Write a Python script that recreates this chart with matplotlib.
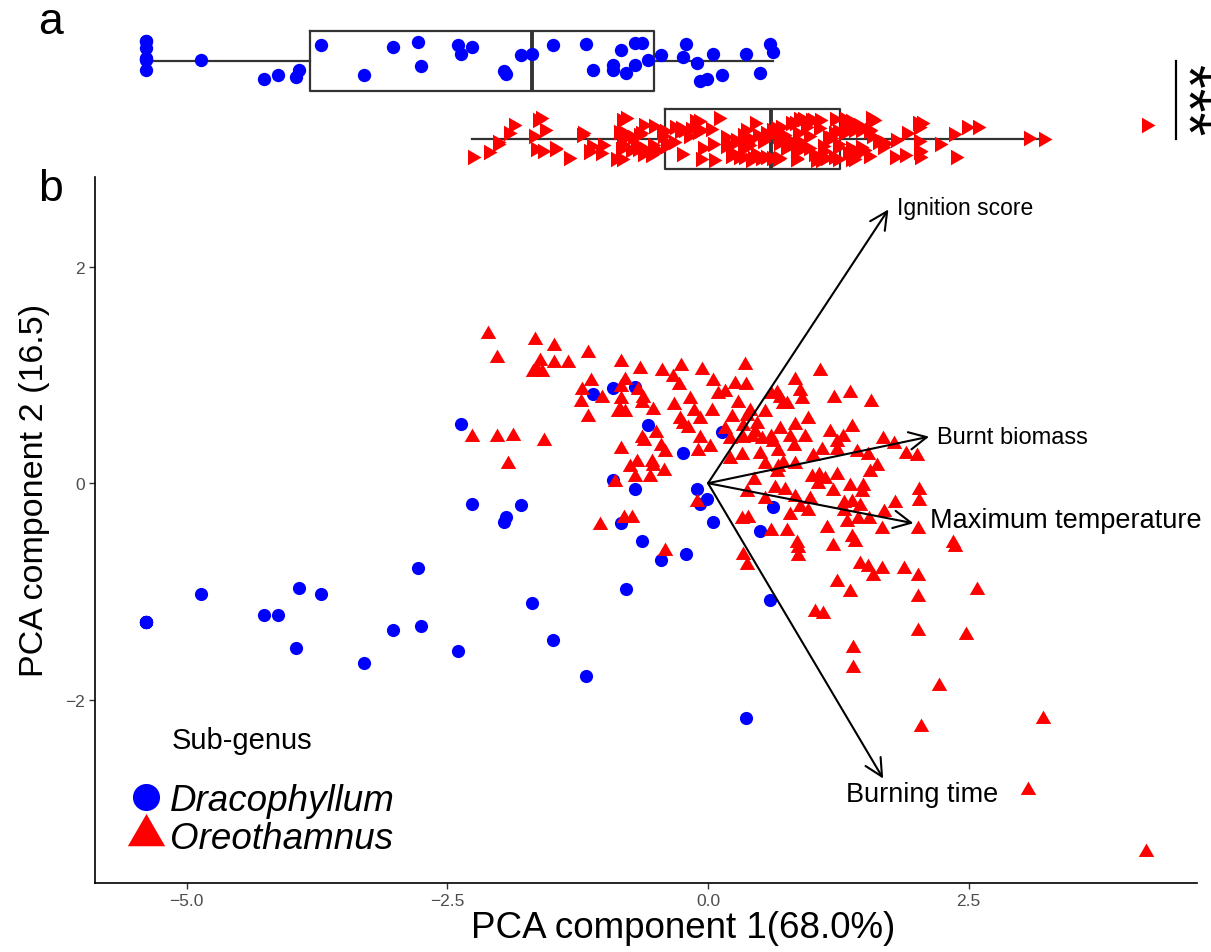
import numpy as np
import matplotlib
matplotlib.use("Agg")
import matplotlib.pyplot as plt
from matplotlib.lines import Line2D
import seaborn as sns

plt.rcParams['font.family'] = ['Liberation Sans', 'DejaVu Sans']

# ---------------- PCA scores ----------------
subgenera = ['Dracophyllum', 'Oreothamnus']

blue_pc1 = [-5.39, -5.39, -5.39, -5.39, -5.39, -5.39, -5.39,
            -4.86, -4.26, -4.12, -3.92, -3.71, -3.95, -3.30, -3.02, -2.75, -2.78,
            -2.40, -2.37, -2.26, -1.96, -1.94, -1.79, -1.69, -1.49, -1.17, -1.10,
            -0.91, -0.70, -0.58, -0.24, 0.13, -0.91, -0.70, -0.11, -0.01, -0.08,
            0.05, -0.83, -0.79, -0.63, -0.45, -0.21, 0.36, 0.59, 0.62, 0.50]
blue_pc2 = [-1.28, -1.28, -1.28, -1.28, -1.28, -1.28, -1.28,
            -1.02, -1.22, -1.22, -0.97, -1.02, -1.52, -1.66, -1.36, -1.32, -0.78,
            -1.55, 0.55, -0.19, -0.36, -0.31, -0.20, -1.11, -1.45, -1.78, 0.82,
            0.88, 0.89, 0.54, 0.28, 0.47, 0.03, -0.05, -0.05, -0.15, -0.19,
            -0.36, -0.37, -0.98, -0.53, -0.71, -0.65, -2.17, -1.08, -0.22, -0.44]

red_pc1 = [-2.26, -2.11, -2.02, -2.02, -1.92, -1.87, -1.68, -1.66, -1.64, -1.61,
           -1.59, -1.57, -1.48, -1.48, -1.34, -1.22, -1.21, -1.15, -1.15, -1.12,
           -1.04, -1.02, -0.89, -0.86, -0.84, -0.83, -0.83, -0.83, -0.81, -0.80,
           -0.83, -0.80, -0.75, -0.73, -0.70, -0.68, -0.67, -0.65, -0.62, -0.63,
           -0.63, -0.61, -0.56, -0.54, -0.53, -0.53, -0.50, -0.45, -0.44, -0.42,
           -0.41, -0.41, -0.34, -0.28, -0.33, -0.26, -0.24, -0.19, -0.13, -0.08,
           -0.10, -0.11, -0.06, 0.05, 0.04, 0.02, 0.16, 0.21, 0.23, 0.26,
           0.29, 0.33, 0.35, 0.34, 0.34, 0.33, 0.34, 0.37, 0.38, 0.37,
           0.37, 0.40, 0.42, 0.45, 0.44, 0.52, 0.55, 0.55, 0.60, 0.60,
           0.64, 0.66, 0.66, 0.67, 0.67, 0.69, 0.69, 0.74, 0.76, 0.76,
           0.79, 0.82, 0.83, 0.83, 0.83, 0.85, 0.86, 0.86, 0.88, 0.88,
           0.90, 0.93, 0.96, 0.98, 1.01, 1.03, 1.05, 1.06, 1.07, 1.10,
           1.14, 1.17, 1.20, 1.20, 1.21, 1.24, 1.24, 1.24, 1.24, 1.29,
           1.30, 1.30, 1.33, 1.36, 1.36, 1.36, 1.38, 1.38, 1.38, 1.41,
           1.39, 1.39, 1.43, 1.44, 1.46, 1.46, 1.48, 1.49, 1.53, 1.53,
           1.54, 1.55, 1.56, 1.58, 1.62, 1.67, 1.67, 1.68, 1.69, 1.78,
           1.79, 1.88, 1.90, 2.00, 2.01, 2.01, 2.01, 2.02, 2.02, 2.01,
           2.04, 2.22, 2.35, 2.37, 2.47, 2.58, 3.07, 3.21, 4.20,
           0.62, 1.09, 0.72, 1.00, 0.72, 0.47, 0.16, 0.10, -0.17, -0.08,
           0.21, 0.50, 0.83, 0.96, 1.12, 0.60, 0.36, 0.79, 0.55, -0.27]
red_pc2 = [0.43, 1.38, 0.43, 1.16, 0.18, 0.44, 1.03, 1.32, 1.05, 1.13,
           1.03, 0.39, 1.27, 1.11, 1.11, 0.75, 0.86, 1.20, 0.61, 0.94,
           -0.39, 0.79, 0.01, 0.66, 0.68, 1.12, 0.78, 0.32, -0.32, 0.95,
           0.89, 0.66, 0.15, -0.32, 0.06, 0.20, 0.86, 1.06, 0.79, 0.74,
           0.42, 0.39, 0.06, 0.20, 0.68, 0.16, 0.46, 0.34, 1.04, 0.11,
           0.29, -0.63, 0.98, 0.91, 0.72, 1.08, 0.55, 0.51, 0.67, 0.42,
           0.30, -0.17, 1.05, 0.94, 0.67, 0.33, 0.84, 0.22, 0.61, 0.92,
           0.74, 0.26, 1.09, 0.42, 0.53, -0.33, -0.66, -0.08, -0.32, -0.76,
           0.62, 0.67, 0.43, 0.47, 0.03, 0.41, 0.66, 0.18, 0.43, -0.44,
           -0.04, 0.83, 0.10, 0.30, 0.15, 0.79, 0.50, -0.06, 0.73, -0.44,
           0.43, 0.34, -0.13, 0.95, 0.54, -0.55, -0.60, -0.67, 0.85, -0.22,
           0.78, 0.43, -0.26, -0.15, 0.25, -1.19, -0.01, 0.08, 1.04, -1.21,
           -0.41, 0.47, -0.07, -0.58, 0.79, 0.38, 0.31, 0.08, -0.91, 0.43,
           -0.26, -0.18, -0.36, 0.83, -0.03, -1.01, 0.52, -0.50, -0.17, -0.54,
           -1.52, -1.71, 0.29, -0.33, -0.21, -0.75, -0.08, -0.03, 0.26, -0.77,
           -0.33, 0.10, 0.75, -0.86, 0.16, -0.42, -0.79, 0.41, -0.27, 0.36,
           -0.18, -0.79, 0.27, 0.25, -0.86, -1.05, -0.42, -0.06, -0.16, -1.37,
           -2.25, -1.87, -0.55, -0.59, -1.40, -0.99, -2.84, -2.18, -3.41,
           0.38, 0.31, 0.19, 0.06, 0.73, 0.55, 0.50, 0.82, 0.78, 0.59,
           0.41, 0.27, 0.18, 0.59, 0.04, 0.82, 0.91, -0.29, -0.15, 0.59]

# ---------------- variable loadings (biplot arrows) ----------------
var_names = ['Ignition score', 'Burnt biomass', 'Maximum temperature', 'Burning time']
load_pc1 = [1.73, 2.12, 1.97, 1.68]
load_pc2 = [2.53, 0.43, -0.37, -2.73]

x_ticks = [-5.0, -2.5, 0.0, 2.5]
y_ticks = [-2, 0, 2]

# ---------------- styling ----------------
BLUE = '#0000FF'
RED = '#FF0000'
BOXCOL = '#333333'
XLIM = (-5.88, 4.69)
YLIM = (-3.695, 2.83)

TRI_UP = [(-1.0, -0.577), (1.0, -0.577), (0.0, 1.155)]
TRI_RIGHT = [(-0.577, -1.0), (-0.577, 1.0), (1.155, 0.0)]

# label placement relative to arrow tips (points), alignment and size
label_offsets = [(6.5, 1.5), (5.8, 0.0), (12.0, 2.0), (28.0, -11.0)]
label_ha = ['left', 'left', 'left', 'center']
label_size = [16.5, 17.0, 19.5, 19.5]

W, H = 1211, 953
fig = plt.figure(figsize=(W / 100, H / 100), dpi=100)


def px_box(left, top, right, bottom):
    return [left / W, 1 - bottom / H, (right - left) / W, (bottom - top) / H]


ax_b = fig.add_axes(px_box(95, 178, 1197, 884))
ax_a = fig.add_axes(px_box(95, 8, 1197, 175))

# ---------------- panel b: PCA biplot ----------------
ax_b.scatter(blue_pc1, blue_pc2, s=90, c=BLUE, marker='o', linewidths=0, zorder=3)
ax_b.scatter(red_pc1, red_pc2, s=165, c=RED, marker=TRI_UP, linewidths=0, zorder=4)

for name, lx, ly, (dx, dy), ha, fs in zip(var_names, load_pc1, load_pc2,
                                          label_offsets, label_ha, label_size):
    ax_b.annotate('', xy=(lx, ly), xytext=(0, 0),
                  arrowprops=dict(arrowstyle='->,head_length=0.7,head_width=0.35',
                                  color='black', lw=1.5, shrinkA=0, shrinkB=0,
                                  mutation_scale=18),
                  zorder=5)
    ax_b.annotate(name, xy=(lx, ly), xytext=(dx, dy), textcoords='offset points',
                  ha=ha, va='center', fontsize=fs, color='black', zorder=6)

ax_b.set_xlim(*XLIM)
ax_b.set_ylim(*YLIM)
ax_b.set_xticks(x_ticks)
ax_b.set_xticklabels([f'{v:.1f}'.replace('-', '\u2212') for v in x_ticks])
ax_b.set_yticks(y_ticks)
ax_b.set_yticklabels([f'{v:d}'.replace('-', '\u2212') for v in y_ticks])
ax_b.tick_params(axis='both', direction='out', length=4.5, width=1.0, color=BOXCOL,
                 labelcolor='#4D4D4D', labelsize=12.5, pad=3)
for side in ('top', 'right'):
    ax_b.spines[side].set_visible(False)
for side in ('left', 'bottom'):
    ax_b.spines[side].set_linewidth(1.2)
    ax_b.spines[side].set_color('black')

ax_b.set_xlabel('PCA component 1(68.0%)', fontsize=26.5)
ax_b.xaxis.set_label_coords(0.534, -0.038)
ax_b.set_ylabel('PCA component 2 (16.5)', fontsize=24.5)
ax_b.yaxis.set_label_coords(-0.041, 0.557)

handles = [Line2D([], [], ls='', marker='o', ms=19.5, mfc=BLUE, mec=BLUE, mew=0),
           Line2D([], [], ls='', marker=TRI_UP, ms=31, mfc=RED, mec=RED, mew=0)]
ax_b.legend(handles, subgenera, loc='upper left', bbox_to_anchor=(0.029, 0.142),
            frameon=False, prop=dict(style='italic', size=26.5), handlelength=1.05,
            handletextpad=0.12, labelspacing=0.08, borderpad=0, borderaxespad=0)
ax_b.text((172 - 95) / 1102, (884 - 741) / 706, 'Sub-genus', fontsize=21,
          ha='left', va='center', transform=ax_b.transAxes)

# ---------------- panel a: PC1 by sub-genus ----------------
np.random.seed(11)
ax_a.boxplot([blue_pc1, red_pc1], positions=[0, 1], orientation='horizontal',
             widths=0.76, whis=1.5, showcaps=False, showfliers=False,
             boxprops=dict(color=BOXCOL, linewidth=1.6),
             whiskerprops=dict(color=BOXCOL, linewidth=1.6),
             medianprops=dict(color=BOXCOL, linewidth=2.8), zorder=2)
sns.stripplot(x=blue_pc1, y=[subgenera[0]] * len(blue_pc1), order=subgenera, ax=ax_a,
              jitter=0.26, color=BLUE, marker='o', size=9.6, linewidth=0, zorder=3)
sns.stripplot(x=red_pc1, y=[subgenera[1]] * len(red_pc1), order=subgenera, ax=ax_a,
              jitter=0.28, color=RED, marker=TRI_RIGHT, size=13, linewidth=0, zorder=3)

ax_a.plot([4.49, 4.49], [0, 1], color='black', lw=1.6, clip_on=False)
ax_a.text(4.56, 0.5, '***', rotation=270, ha='center', va='center', fontsize=44,
          clip_on=False)
ax_a.set_xlim(*XLIM)
ax_a.set_ylim(1.449, -0.692)
ax_a.axis('off')

fig.text(50 / W, 1 - 22 / H, 'a', fontsize=32, ha='center', va='center')
fig.text(50 / W, 1 - 190 / H, 'b', fontsize=32, ha='center', va='center')

fig.savefig('out.png', dpi=100)
